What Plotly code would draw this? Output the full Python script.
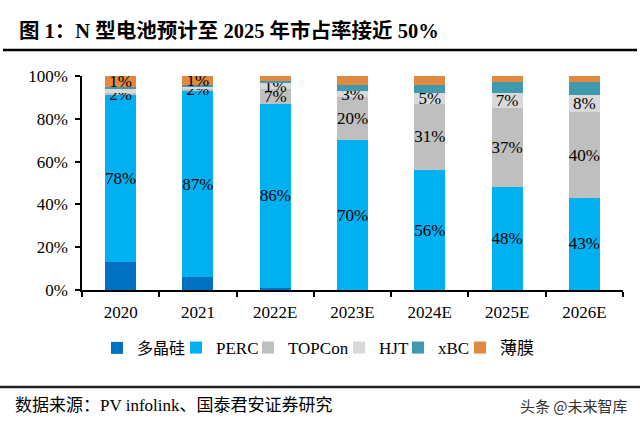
import plotly.graph_objects as go

categories = ["2020", "2021", "2022E", "2023E", "2024E", "2025E", "2026E"]
series_names = ["多晶硅", "PERC", "TOPCon", "HJT", "xBC", "薄膜"]

poly = [13, 6, 1, 0, 0, 0, 0]
perc = [78, 87, 86, 70, 56, 48, 43]
topcon = [1, 1, 7, 20, 31, 37, 40]
hjt = [2, 1, 2.5, 3, 5, 7, 8]
xbc = [1, 1, 1, 3, 4, 5, 6]
film = [5, 4, 2.5, 4, 4, 3, 3]

poly_labels = ["", "", "", "", "", "", ""]
perc_labels = ["78%", "87%", "86%", "70%", "56%", "48%", "43%"]
topcon_labels = ["2%", "2%", "7%", "20%", "31%", "37%", "40%"]
hjt_labels = ["", "", "1%", "3%", "5%", "7%", "8%"]
xbc_labels = ["", "", "", "", "", "", ""]
film_labels = ["1%", "1%", "", "", "", "", ""]

colors = ["#0070C0", "#00B0F0", "#BFBFBF", "#D9D9D9", "#3F99AF", "#E2883F"]

y_ticks = [0, 20, 40, 60, 80, 100]
y_tick_text = ["0%", "20%", "40%", "60%", "80%", "100%"]

SERIF = "Liberation Serif, Times New Roman, Noto Sans CJK SC"

W, H = 640, 427
L, R, T, B = 82, 17, 76, 137
pw, ph = W - L - R, H - T - B


def px(x):
    return (x - L) / pw


def py(y):
    return (H - B - y) / ph


# legend entry left positions (pixels) and font sizes
legend_x = [97, 176, 248, 339, 398, 460]
legend_font = [16, 17, 17, 17, 17, 17]

fig = go.Figure()
values = [poly, perc, topcon, hjt, xbc, film]
labels = [poly_labels, perc_labels, topcon_labels, hjt_labels, xbc_labels, film_labels]
legend_ids = ["legend"] + ["legend%d" % i for i in range(2, 7)]
for name, vals, txt, col, lid in zip(series_names, values, labels, colors, legend_ids):
    fig.add_trace(go.Bar(
        name=name, x=categories, y=vals, text=txt,
        textposition="inside", insidetextanchor="middle",
        constraintext="none", textangle=0,
        textfont=dict(family=SERIF, size=17, color="black"),
        marker=dict(color=col, line=dict(width=0)),
        hoverinfo="skip", legend=lid,
    ))

legends = {}
for lid, lx, fs in zip(legend_ids, legend_x, legend_font):
    legends[lid] = dict(orientation="h", x=px(lx), xanchor="left", y=py(348),
                        yanchor="middle", font=dict(family=SERIF, size=fs, color="black"),
                        itemclick=False, bgcolor="rgba(0,0,0,0)")

fig.update_layout(
    width=W, height=H,
    margin=dict(l=L, r=R, t=T, b=B, autoexpand=False),
    barmode="stack", bargap=0.6,
    paper_bgcolor="white", plot_bgcolor="white",
    font=dict(family=SERIF, size=17, color="black"),
    showlegend=True,
    xaxis=dict(type="category", tickson="boundaries", ticks="outside", ticklen=5,
               tickwidth=1.5, tickcolor="black", showline=True, linecolor="black",
               linewidth=1.5, showgrid=False, ticklabelstandoff=6,
               tickfont=dict(family=SERIF, size=17, color="black")),
    yaxis=dict(range=[0, 100], tickvals=y_ticks, ticktext=y_tick_text, ticks="outside",
               ticklen=5, tickwidth=1.5, tickcolor="black", showline=True,
               linecolor="black", linewidth=1.5, showgrid=False, zeroline=False,
               ticklabelstandoff=4,
               tickfont=dict(family=SERIF, size=17, color="black")),
    shapes=[
        dict(type="line", xref="paper", yref="paper", x0=px(3), x1=px(637),
             y0=py(50), y1=py(50), line=dict(color="black", width=2.5)),
        dict(type="line", xref="paper", yref="paper", x0=px(0), x1=px(640),
             y0=py(387), y1=py(387), line=dict(color="#222222", width=2.5)),
    ],
    annotations=[
        dict(text="<b>图 1：N 型电池预计至 2025 年市占率接近 50%</b>", xref="paper", yref="paper",
             x=px(17), y=py(30), xanchor="left", yanchor="middle", showarrow=False,
             font=dict(family=SERIF, size=20.5, color="black")),
        dict(text="数据来源：PV infolink、国泰君安证券研究", xref="paper", yref="paper",
             x=px(13), y=py(405), xanchor="left", yanchor="middle", showarrow=False,
             font=dict(family=SERIF, size=17, color="black")),
        dict(text="头条 @未来智库", xref="paper", yref="paper",
             x=px(630), y=py(405), xanchor="right", yanchor="middle", showarrow=False,
             font=dict(family="Noto Sans CJK SC", size=15, color="#333333")),
    ],
    **legends,
)

fig.write_html("out.html", config={"displayModeBar": False},
               post_script="document.body.style.margin='0';")
